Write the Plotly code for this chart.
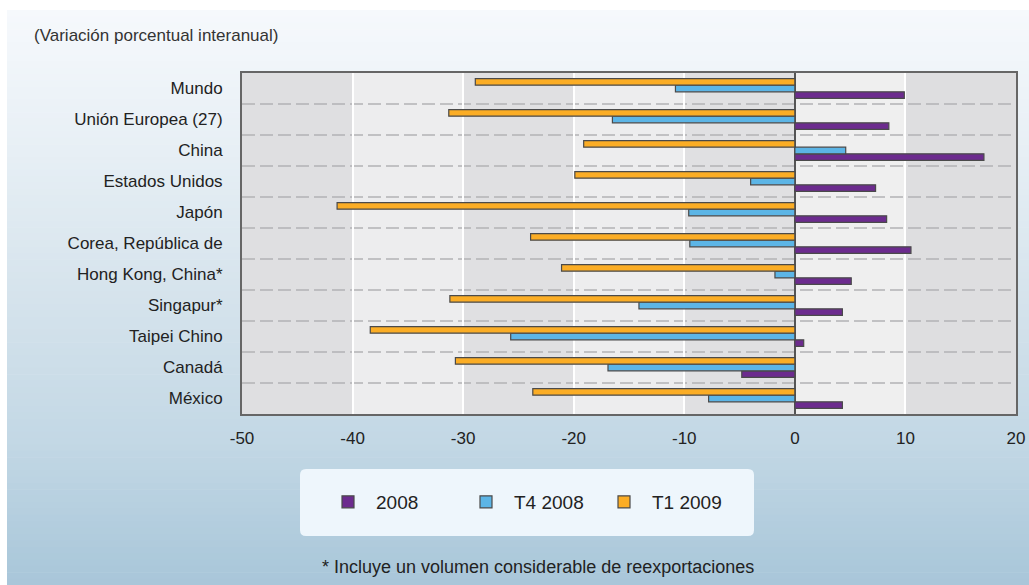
import plotly.graph_objects as go

# Economies, listed top to bottom as they appear on the chart
countries = [
    "Mundo", "Unión Europea (27)", "China", "Estados Unidos", "Japón",
    "Corea, República de", "Hong Kong, China*", "Singapur*", "Taipei Chino",
    "Canadá", "México",
]

# Year-on-year percentage change of merchandise exports
y2008 = [9.9, 8.5, 17.1, 7.3, 8.3, 10.5, 5.1, 4.3, 0.8, -4.8, 4.3]
t4_2008 = [-10.8, -16.5, 4.6, -4.0, -9.6, -9.5, -1.8, -14.1, -25.7, -16.9, -7.8]
t1_2009 = [-28.9, -31.3, -19.1, -19.9, -41.4, -23.9, -21.1, -31.2, -38.4, -30.7, -23.7]

series_names = ["2008", "T4 2008", "T1 2009"]
series_values = [y2008, t4_2008, t1_2009]
series_colors = ["#6c2b8e", "#5cb5e6", "#fbad25"]

x_ticks = [-50, -40, -30, -20, -10, 0, 10, 20]

FONT = "Liberation Sans, Arial, sans-serif"
TEXT = "#222222"

W, H = 1029, 585
L, R, T, B = 242, 1016, 73, 414   # plot area in pixels


def px(x):
    return (x - L) / (R - L)


def py(y):
    return (B - y) / (B - T)


def mix(c1, c2, t):
    a = [int(c1[i:i + 2], 16) for i in (1, 3, 5)]
    b = [int(c2[i:i + 2], 16) for i in (1, 3, 5)]
    return "#" + "".join(f"{round(a[k] + (b[k] - a[k]) * t):02x}" for k in range(3))


fig = go.Figure()
for name, vals, col in zip(series_names, series_values, series_colors):
    fig.add_trace(go.Bar(
        name=name, y=countries, x=vals, orientation="h",
        marker=dict(color=col, line=dict(color="#4a4a4a", width=1.2)),
    ))

shapes = []

# page background: soft vertical gradient from near-white to pale blue
stops = [(10, "#f6f9fc"), (150, "#e7eff5"), (300, "#d5e3ec"),
         (440, "#c3d8e5"), (585, "#a8c6d9")]
n_strips = 90
for k in range(n_strips):
    y0 = 10 + (H - 10) * k / n_strips
    y1 = 10 + (H - 10) * (k + 1) / n_strips + 0.6
    yc = (y0 + y1) / 2
    for (a, ca), (b, cb) in zip(stops[:-1], stops[1:]):
        if a <= yc <= b:
            col = mix(ca, cb, (yc - a) / (b - a))
            break
    shapes.append(dict(type="rect", xref="paper", yref="paper",
                       x0=px(7), x1=px(W + 4), y0=py(y0), y1=py(min(y1, H)),
                       fillcolor=col, line=dict(width=0), layer="below"))

# alternating vertical bands inside the plot area
band_colors = ["#dfdfe1", "#ededee", "#e0e0e2", "#ededee", "#e0e0e2", "#efefef", "#dedee0"]
for i, c in enumerate(band_colors):
    shapes.append(dict(type="rect", xref="x", yref="y domain",
                       x0=x_ticks[i], x1=x_ticks[i + 1], y0=0, y1=1,
                       fillcolor=c, line=dict(width=0), layer="below"))

# dashed separators between economies
for i in range(len(countries) - 1):
    shapes.append(dict(type="line", xref="x domain", yref="y",
                       x0=0, x1=1, y0=i + 0.5, y1=i + 0.5,
                       line=dict(color="#b3b3b5", width=1.5, dash="13px,5px"),
                       layer="below"))

# rounded legend panel
lx0, lx1, ly0, ly1, r = px(300), px(754), py(536), py(469), 6
rx, ry = r / (R - L), r / (B - T)
path = (f"M {lx0 + rx},{ly0} L {lx1 - rx},{ly0} Q {lx1},{ly0} {lx1},{ly0 + ry} "
        f"L {lx1},{ly1 - ry} Q {lx1},{ly1} {lx1 - rx},{ly1} L {lx0 + rx},{ly1} "
        f"Q {lx0},{ly1} {lx0},{ly1 - ry} L {lx0},{ly0 + ry} Q {lx0},{ly0} {lx0 + rx},{ly0} Z")
shapes.append(dict(type="path", xref="paper", yref="paper", path=path,
                   fillcolor="#eef6fc", line=dict(width=0), layer="below"))

annotations = [
    dict(text="(Variación porcentual interanual)", xref="paper", yref="paper",
         x=px(32), y=py(35), xanchor="left", yanchor="middle", showarrow=False,
         font=dict(family=FONT, size=17, color="#333333")),
    dict(text="* Incluye un volumen considerable de reexportaciones",
         xref="paper", yref="paper", x=px(538), y=py(567),
         xanchor="center", yanchor="middle", showarrow=False,
         font=dict(family=FONT, size=18, color=TEXT)),
]

fig.update_layout(
    width=W, height=H, autosize=False,
    margin=dict(l=L, r=W - R, t=T, b=H - B, autoexpand=False),
    paper_bgcolor="white", plot_bgcolor="rgba(0,0,0,0)",
    barmode="group", bargap=0.36, bargroupgap=0,
    font=dict(family=FONT, size=16, color=TEXT),
    shapes=shapes, annotations=annotations,
    showlegend=True,
    legend=dict(orientation="h", x=px(527), y=py(502), xanchor="center",
                yanchor="middle", bgcolor="rgba(0,0,0,0)",
                font=dict(family=FONT, size=19, color=TEXT),
                itemwidth=46, entrywidth=77, entrywidthmode="pixels",
                traceorder="normal"),
)

fig.update_xaxes(
    range=[-50, 20], tickvals=x_ticks, ticktext=[str(v) for v in x_ticks],
    showgrid=True, gridcolor="#ffffff", gridwidth=2,
    zeroline=True, zerolinecolor="#555555", zerolinewidth=1.5,
    showline=True, linecolor="#666666", linewidth=2, mirror=True,
    ticks="", ticklabelstandoff=8, tickfont=dict(size=17), automargin=False,
)
fig.update_yaxes(
    type="category", categoryorder="array", categoryarray=countries[::-1],
    range=[-0.5, len(countries) - 0.5],
    showgrid=False, showline=True, linecolor="#666666", linewidth=2, mirror=True,
    ticks="", ticklabelstandoff=14, tickfont=dict(size=17), automargin=False,
)

fig.write_html("out.html", config={"responsive": False})
